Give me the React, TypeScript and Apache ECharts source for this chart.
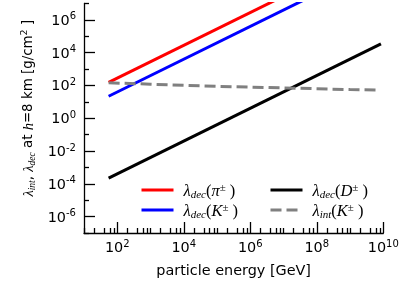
import React, { useEffect, useRef } from 'react';
import * as echarts from 'echarts';

// axis ranges (GeV, g/cm^2)
const energyMin = 10;
const energyMax = 1e10;
const lengthMin = 1e-7;
const lengthMax = 1e7;

// tick exponents
const majorXExp = [2, 4, 6, 8, 10];
const oddXExp = [1, 3, 5, 7, 9];
const minorXSubs = [2, 4, 6, 8];
const majorYExp = [-6, -4, -2, 0, 2, 4, 6];
const minorYExp = [-7, -5, -3, -1, 1, 3, 5, 7];

// series values
const piEnergy = [55, 1e10];
const piDecay = [155, 2.8e10];
const kEnergy = [55, 1e10];
const kDecay = [22, 4e9];
const dEnergy = [55, 8.5e9];
const dDecay = [2.2e-4, 3.4e4];
const intEnergy = [55, 1e3, 1e4, 1e5, 1e6, 1e7, 1e8, 1e9, 7e9];
const intLength = [145, 120, 102, 89, 79, 71, 63, 56, 52];

const zip = (xs: number[], ys: number[]) => xs.map((x, i) => [x, ys[i]]);

const SANS = 'DejaVu Sans';
const SERIF = 'Liberation Serif';
const FS = 14.4;

const tickRich = {
  b: { fontFamily: SANS, fontSize: FS, lineHeight: 18, color: '#000' },
  s: { fontFamily: SANS, fontSize: 10, lineHeight: 10, verticalAlign: 'top', color: '#000' },
};

const legendRich = {
  l: { fontFamily: SERIF, fontStyle: 'italic', fontSize: 16.5, lineHeight: 18, color: '#000', padding: [0, 0, 0, 5] },
  sub: { fontFamily: SERIF, fontStyle: 'italic', fontSize: 11, lineHeight: 8, verticalAlign: 'bottom', color: '#000' },
  n: { fontFamily: SERIF, fontSize: 16.5, lineHeight: 18, color: '#000' },
  v: { fontFamily: SERIF, fontStyle: 'italic', fontSize: 16.5, lineHeight: 18, color: '#000' },
  sup: { fontFamily: SERIF, fontSize: 11, lineHeight: 8, verticalAlign: 'top', color: '#000' },
};

const nameRich = {
  l: { fontFamily: SERIF, fontStyle: 'italic', fontSize: 14.5, lineHeight: 18, color: '#000' },
  sub: { fontFamily: SERIF, fontStyle: 'italic', fontSize: 9.5, lineHeight: 8, verticalAlign: 'bottom', color: '#000' },
  v: { fontFamily: SERIF, fontStyle: 'italic', fontSize: 14.5, lineHeight: 18, color: '#000' },
  t: { fontFamily: SANS, fontSize: 13.4, lineHeight: 18, color: '#000' },
  ts: { fontFamily: SANS, fontSize: 9.5, lineHeight: 8, verticalAlign: 'top', color: '#000' },
};

const legendLabels: Record<string, string> = {
  pi: '{l|λ}{sub|dec}{n|(}{v|π}{sup|±}{n| )}',
  K: '{l|λ}{sub|dec}{n|(}{v|K}{sup|±}{n| )}',
  D: '{l|λ}{sub|dec}{n|(}{v|D}{sup|±}{n| )}',
  int: '{l|λ}{sub|int}{n|(}{v|K}{sup|±}{n| )}',
};

const minorXTicks: number[] = [];
for (let n = 1; n <= 9; n++) {
  for (const k of minorXSubs) minorXTicks.push(Math.log10(k * Math.pow(10, n)));
}
oddXExp.forEach((e) => minorXTicks.push(e));

const tickLine = { color: '#000', width: 1.3 };

export default function App() {
  const ref = useRef<HTMLDivElement>(null);
  useEffect(() => {
    if (!ref.current) return;
    const chart = echarts.init(ref.current, undefined, { renderer: 'svg' });
    const lx = Math.log10(energyMin);
    const hx = Math.log10(energyMax);
    const ly = Math.log10(lengthMin);
    const hy = Math.log10(lengthMax);
    const supFmt = (v: number) => `{b|10}{s|${Math.round(v)}}`;
    const legendBase = {
      orient: 'vertical', top: 181, padding: 0,
      itemWidth: 32, itemHeight: 14, itemGap: 2, selectedMode: false,
      itemStyle: { opacity: 0 },
      lineStyle: { width: 3 },
      formatter: (n: string) => legendLabels[n],
      textStyle: { rich: legendRich },
    };
    chart.setOption({
      animation: false,
      grid: { left: 84, top: 3.5, width: 299.3, height: 230.7, containLabel: false },
      xAxis: [
        {
          type: 'log', logBase: 10, min: energyMin, max: energyMax, position: 'bottom',
          axisLine: { show: true, onZero: false, lineStyle: tickLine },
          axisTick: { show: false }, axisLabel: { show: false }, splitLine: { show: false },
          minorTick: { show: false },
        },
        {
          type: 'value', min: lx, max: hx, position: 'bottom',
          axisLine: { show: false, onZero: false },
          axisTick: { show: true, inside: true, length: 11, customValues: majorXExp, lineStyle: tickLine },
          axisLabel: { show: true, margin: 5, customValues: majorXExp, formatter: supFmt, rich: tickRich },
          splitLine: { show: false },
          name: 'particle energy [GeV]', nameLocation: 'middle', nameGap: 29,
          nameTextStyle: { fontFamily: SANS, fontSize: FS, color: '#000', lineHeight: 15 },
        },
        {
          type: 'value', min: lx, max: hx, position: 'bottom',
          axisLine: { show: false, onZero: false },
          axisTick: { show: true, inside: true, length: 5, customValues: minorXTicks, lineStyle: tickLine },
          axisLabel: { show: false }, splitLine: { show: false },
        },
      ],
      yAxis: [
        {
          type: 'log', logBase: 10, min: lengthMin, max: lengthMax, position: 'left',
          axisLine: { show: true, onZero: false, lineStyle: tickLine },
          axisTick: { show: false }, axisLabel: { show: false }, splitLine: { show: false },
        },
        {
          type: 'value', min: ly, max: hy, position: 'left',
          axisLine: { show: false, onZero: false },
          axisTick: { show: true, inside: true, length: 11, customValues: majorYExp, lineStyle: tickLine },
          axisLabel: { show: true, margin: 8, customValues: majorYExp, formatter: supFmt, rich: tickRich },
          splitLine: { show: false },
          name: '{l|λ}{sub|int}{t|, }{l|λ}{sub|dec}{t| at }{v|h}{t|=8 km [g/cm}{ts|2}{t| ]}',
          nameLocation: 'middle', nameGap: 42, nameRotate: 90,
          nameTextStyle: { color: '#000', rich: nameRich, padding: [0, 0, 0, 20] },
        },
        {
          type: 'value', min: ly, max: hy, position: 'left',
          axisLine: { show: false, onZero: false },
          axisTick: { show: true, inside: true, length: 5, customValues: minorYExp, lineStyle: tickLine },
          axisLabel: { show: false }, splitLine: { show: false },
        },
      ],
      legend: [
        { ...legendBase, data: ['pi', 'K'], left: 140 },
        { ...legendBase, data: ['D', 'int'], left: 269 },
      ],
      series: [
        {
          type: 'line', name: 'pi', data: zip(piEnergy, piDecay), symbol: 'none', xAxisIndex: 0, yAxisIndex: 0,
          lineStyle: { color: '#ff0000', width: 3 }, itemStyle: { color: '#ff0000' }, z: 3,
        },
        {
          type: 'line', name: 'K', data: zip(kEnergy, kDecay), symbol: 'none', xAxisIndex: 0, yAxisIndex: 0,
          lineStyle: { color: '#0000ff', width: 3 }, itemStyle: { color: '#0000ff' }, z: 3,
        },
        {
          type: 'line', name: 'D', data: zip(dEnergy, dDecay), symbol: 'none', xAxisIndex: 0, yAxisIndex: 0,
          lineStyle: { color: '#000000', width: 3 }, itemStyle: { color: '#000000' }, z: 3,
        },
        {
          type: 'line', name: 'int', data: zip(intEnergy, intLength), symbol: 'none', xAxisIndex: 0, yAxisIndex: 0,
          lineStyle: { color: '#808080', width: 3, type: [11, 5] }, itemStyle: { color: '#808080' }, z: 4,
        },
      ],
    });
    return () => chart.dispose();
  }, []);
  return <div ref={ref} style={{ position: 'fixed', left: 0, top: 0, width: 415, height: 282 }} />;
}
